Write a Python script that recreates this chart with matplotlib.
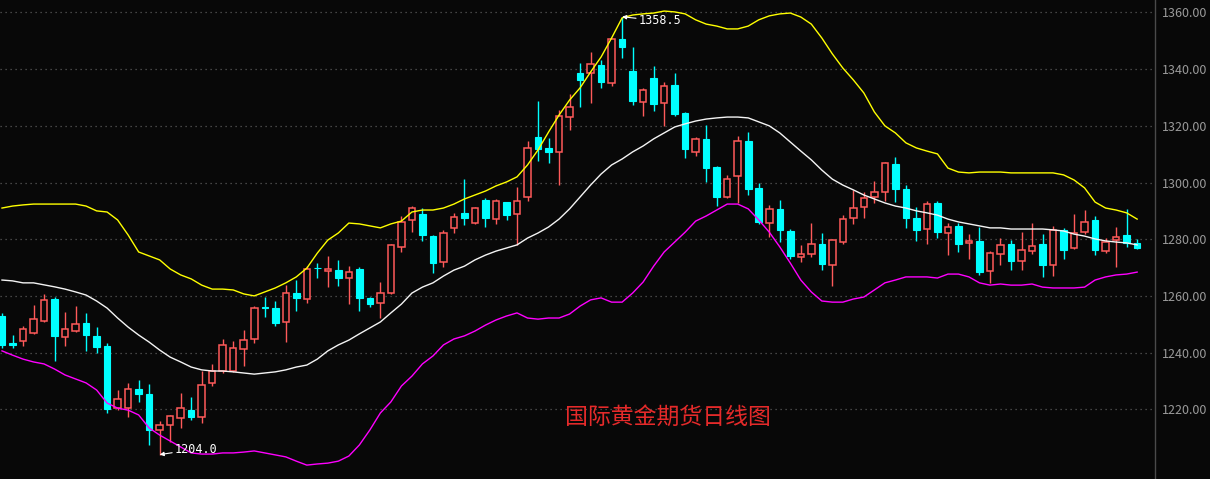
import matplotlib
matplotlib.use("Agg")
import matplotlib.pyplot as plt
import numpy as np

plt.rcParams['font.family'] = ['Noto Sans CJK SC', 'DejaVu Sans']

# daily OHLC (oldest first)
opens = [1252.9, 1243.3, 1244.1, 1246.9, 1251.1, 1258.9, 1245.5, 1247.6, 1250.4, 1245.8,
         1242.4, 1220.4, 1220.4, 1227.1, 1225.4, 1212.7, 1214.4, 1216.9, 1219.7, 1217.3,
         1229.3, 1233.5, 1233.5, 1241.3, 1244.8, 1256.2, 1255.7, 1250.8, 1261.0, 1258.9,
         1270.0, 1268.8, 1269.1, 1266.3, 1269.5, 1259.3, 1257.5, 1261.0, 1277.3, 1286.8,
         1288.9, 1281.1, 1272.0, 1284.0, 1289.3, 1285.7, 1293.8, 1287.1, 1293.1, 1288.9,
         1294.9, 1316.1, 1312.2, 1310.8, 1323.1, 1338.7, 1338.7, 1341.5, 1335.1, 1350.6,
         1339.4, 1328.4, 1336.9, 1328.1, 1334.4, 1324.5, 1310.8, 1315.4, 1305.5, 1294.9,
         1302.3, 1314.7, 1298.1, 1285.7, 1290.7, 1282.9, 1273.7, 1274.8, 1278.3, 1270.9,
         1279.0, 1287.5, 1291.4, 1294.9, 1296.7, 1306.5, 1297.7, 1287.5, 1283.6, 1292.8,
         1282.2, 1284.7, 1278.7, 1279.4, 1268.8, 1274.8, 1278.3, 1272.3, 1275.8, 1278.3,
         1270.9, 1283.3, 1276.9, 1282.5, 1286.8, 1275.8, 1279.7, 1281.5, 1278.7]
highs = [1254.0, 1246.2, 1249.4, 1256.8, 1260.7, 1259.6, 1254.3, 1256.4, 1254.0, 1249.0,
         1243.4, 1226.8, 1229.3, 1230.3, 1228.9, 1215.9, 1218.0, 1225.7, 1224.3, 1233.5,
         1236.0, 1244.8, 1244.1, 1248.0, 1256.4, 1259.6, 1258.2, 1263.8, 1265.6, 1270.6,
         1271.6, 1274.1, 1272.7, 1270.6, 1270.2, 1259.6, 1264.9, 1278.3, 1288.2, 1291.7,
         1291.0, 1281.5, 1283.3, 1289.3, 1301.2, 1291.4, 1294.5, 1294.2, 1293.3, 1298.4,
         1314.7, 1328.8, 1315.7, 1325.6, 1331.2, 1342.2, 1346.1, 1343.2, 1350.9, 1358.5,
         1347.8, 1333.4, 1341.1, 1335.5, 1338.7, 1324.8, 1316.1, 1320.3, 1305.8, 1302.7,
         1316.4, 1317.8, 1299.8, 1292.1, 1293.8, 1283.6, 1278.0, 1285.7, 1282.2, 1280.0,
         1288.6, 1297.4, 1296.7, 1300.5, 1307.2, 1309.0, 1299.1, 1291.4, 1293.5, 1293.5,
         1285.7, 1285.7, 1281.8, 1284.3, 1275.8, 1280.4, 1279.7, 1282.5, 1285.7, 1281.8,
         1284.7, 1284.0, 1288.9, 1290.3, 1288.2, 1280.4, 1284.3, 1290.7, 1280.0]
lows = [1241.5, 1241.6, 1242.4, 1246.5, 1250.8, 1237.0, 1242.4, 1247.3, 1240.6, 1239.9,
        1218.7, 1219.7, 1217.3, 1222.6, 1207.4, 1204.0, 1208.4, 1213.4, 1216.2, 1215.2,
        1228.2, 1232.8, 1233.0, 1235.3, 1243.4, 1252.6, 1249.4, 1243.7, 1254.7, 1257.5,
        1266.3, 1263.1, 1263.5, 1257.1, 1254.7, 1256.1, 1252.2, 1260.7, 1275.5, 1282.5,
        1279.4, 1268.1, 1270.2, 1282.2, 1285.0, 1285.5, 1284.3, 1285.4, 1286.8, 1278.0,
        1293.5, 1307.6, 1306.9, 1299.1, 1318.5, 1326.7, 1328.1, 1333.4, 1334.1, 1344.0,
        1327.4, 1323.5, 1325.2, 1320.0, 1323.5, 1308.7, 1309.4, 1300.2, 1291.7, 1294.5,
        1292.8, 1295.6, 1285.4, 1280.8, 1279.0, 1273.0, 1272.0, 1273.7, 1269.1, 1263.5,
        1278.3, 1285.4, 1287.5, 1292.8, 1293.5, 1293.1, 1284.0, 1279.4, 1278.3, 1280.4,
        1274.4, 1275.5, 1273.0, 1267.4, 1264.6, 1270.9, 1269.1, 1269.1, 1274.8, 1266.7,
        1267.0, 1273.0, 1276.6, 1281.8, 1274.4, 1275.1, 1270.2, 1277.3, 1276.6]
closes = [1242.7, 1242.7, 1248.3, 1251.8, 1258.6, 1245.8, 1248.3, 1250.1, 1246.2, 1242.0,
          1220.1, 1223.6, 1227.1, 1225.4, 1212.7, 1214.4, 1217.6, 1220.4, 1217.3, 1228.6,
          1233.5, 1242.7, 1241.6, 1244.4, 1255.7, 1255.8, 1250.4, 1261.0, 1259.3, 1269.5,
          1269.7, 1269.5, 1266.3, 1268.4, 1259.3, 1257.1, 1261.0, 1278.0, 1286.1, 1291.0,
          1281.5, 1271.6, 1282.2, 1287.8, 1287.5, 1291.0, 1287.5, 1293.5, 1288.6, 1293.5,
          1312.2, 1311.8, 1310.8, 1323.5, 1326.7, 1336.2, 1341.8, 1335.5, 1350.6, 1347.8,
          1328.8, 1332.7, 1327.7, 1334.1, 1324.2, 1311.8, 1315.4, 1305.1, 1294.9, 1301.2,
          1314.7, 1297.7, 1286.1, 1290.7, 1283.3, 1274.1, 1274.8, 1278.3, 1271.3, 1279.7,
          1287.1, 1291.0, 1294.5, 1296.7, 1306.9, 1297.7, 1287.5, 1283.3, 1292.4, 1282.5,
          1284.3, 1278.3, 1279.4, 1268.4, 1275.1, 1278.0, 1272.3, 1276.2, 1277.6, 1270.9,
          1283.3, 1276.2, 1282.2, 1286.1, 1276.2, 1279.0, 1280.8, 1278.7, 1276.9]

# Bollinger bands as drawn on the chart
boll_upper = [1291.0, 1291.7, 1292.1, 1292.4, 1292.4, 1292.4, 1292.4, 1292.4, 1291.7, 1290.0,
              1289.6, 1286.8, 1281.5, 1275.5, 1274.1, 1272.7, 1269.5, 1267.4, 1266.0, 1263.8,
              1262.4, 1262.4, 1262.1, 1260.7, 1260.0, 1261.4, 1262.8, 1264.6, 1266.7, 1269.8,
              1275.1, 1279.7, 1282.2, 1285.7, 1285.4, 1284.7, 1284.0, 1285.4, 1286.4, 1289.6,
              1290.3, 1290.3, 1291.0, 1292.4, 1294.2, 1295.6, 1297.0, 1298.8, 1300.2, 1302.0,
              1306.2, 1311.5, 1317.8, 1323.8, 1329.1, 1333.4, 1339.0, 1344.3, 1351.0, 1358.1,
              1359.1, 1359.5, 1359.8, 1360.5, 1360.2, 1359.5, 1357.4, 1355.9, 1355.2, 1354.2,
              1354.2, 1355.2, 1357.4, 1358.8, 1359.5, 1359.8, 1358.4, 1355.9, 1351.0, 1345.4,
              1340.4, 1336.2, 1331.6, 1324.9, 1320.0, 1317.5, 1314.0, 1312.2, 1311.1, 1310.1,
              1305.1, 1303.7, 1303.4, 1303.7, 1303.7, 1303.7, 1303.4, 1303.4, 1303.4, 1303.4,
              1303.4, 1302.7, 1300.9, 1298.1, 1293.1, 1291.0, 1290.3, 1289.3, 1287.1]
boll_mid = [1265.6, 1265.3, 1264.6, 1264.6, 1263.9, 1263.2, 1262.4, 1261.4, 1260.3, 1258.2,
            1255.7, 1252.2, 1249.0, 1246.2, 1243.7, 1240.9, 1238.4, 1236.7, 1234.9, 1233.9,
            1233.5, 1233.5, 1233.2, 1232.8, 1232.4, 1232.8, 1233.2, 1233.9, 1234.9, 1235.6,
            1237.7, 1240.6, 1242.7, 1244.4, 1246.6, 1248.7, 1250.8, 1254.0, 1257.1, 1261.0,
            1263.1, 1264.6, 1267.0, 1269.1, 1270.5, 1272.7, 1274.4, 1275.8, 1276.9, 1278.0,
            1280.4, 1282.2, 1284.3, 1287.1, 1290.7, 1294.9, 1299.1, 1303.0, 1306.2, 1308.3,
            1310.8, 1312.9, 1315.4, 1317.5, 1319.6, 1320.7, 1321.7, 1322.4, 1322.8, 1323.1,
            1323.1, 1322.8, 1321.4, 1320.0, 1317.5, 1314.3, 1311.1, 1308.0, 1304.4, 1301.2,
            1299.1, 1297.4, 1295.6, 1294.2, 1292.8, 1291.7, 1291.0, 1290.0, 1289.3, 1288.5,
            1287.1, 1286.1, 1285.4, 1284.7, 1284.0, 1284.0, 1283.6, 1283.6, 1283.6, 1283.6,
            1283.3, 1282.9, 1281.8, 1281.1, 1280.1, 1279.4, 1279.0, 1278.7, 1278.0]
boll_lower = [1240.6, 1239.1, 1237.7, 1236.7, 1236.0, 1234.2, 1232.1, 1230.7, 1229.3, 1226.8,
              1222.2, 1220.4, 1219.7, 1218.0, 1213.4, 1210.9, 1208.8, 1206.7, 1204.6, 1204.2,
              1204.2, 1204.6, 1204.6, 1204.9, 1205.3, 1204.6, 1203.9, 1203.2, 1201.7, 1200.3,
              1200.7, 1201.0, 1201.7, 1203.5, 1207.4, 1212.7, 1218.7, 1222.6, 1228.2, 1231.7,
              1236.0, 1238.8, 1242.7, 1244.8, 1245.9, 1247.6, 1249.7, 1251.5, 1252.9, 1254.0,
              1252.2, 1251.8, 1252.2, 1252.2, 1253.6, 1256.4, 1258.6, 1259.3, 1257.8, 1257.8,
              1261.0, 1264.9, 1270.5, 1275.5, 1279.0, 1282.5, 1286.4, 1288.2, 1290.3, 1292.4,
              1292.4, 1290.7, 1286.8, 1282.5, 1277.3, 1271.6, 1265.6, 1261.4, 1258.2, 1257.8,
              1257.8, 1258.9, 1259.6, 1262.1, 1264.6, 1265.6, 1266.7, 1266.7, 1266.7, 1266.3,
              1267.7, 1267.7, 1266.7, 1264.6, 1263.8, 1264.2, 1263.8, 1263.8, 1264.2, 1263.1,
              1262.8, 1262.8, 1262.8, 1263.1, 1265.6, 1266.7, 1267.4, 1267.7, 1268.4]

price_ticks = [1220, 1240, 1260, 1280, 1300, 1320, 1340, 1360]
title = "国际黄金期货日线图"

bg = "#080808"
up_col = "#ff5a5a"
down_col = "#00ffff"

fig = plt.figure(figsize=(12.10, 4.79), dpi=100, facecolor=bg)
ax = fig.add_axes([0, 0, 1155 / 1210, 1], facecolor=bg)

x = np.arange(len(closes))
o = np.array(opens)
c = np.array(closes)
h = np.array(highs)
l = np.array(lows)
up = c >= o

# wicks
ax.vlines(x[up], l[up], h[up], color=up_col, lw=1.0, zorder=2)
ax.vlines(x[~up], l[~up], h[~up], color=down_col, lw=1.0, zorder=2)
# bodies
w = 0.62
ax.bar(x[up], np.maximum(c[up] - o[up], 0.3), w, bottom=o[up], facecolor=bg,
       edgecolor=up_col, linewidth=1.1, zorder=3)
ax.bar(x[~up], np.maximum(o[~up] - c[~up], 0.3), w, bottom=c[~up], facecolor=down_col,
       edgecolor=down_col, linewidth=0.8, zorder=3)

# bands
ax.plot(x, boll_upper, color="#ffff00", lw=1.0, zorder=4)
ax.plot(x, boll_mid, color="#f4f4f4", lw=1.0, zorder=4)
ax.plot(x, boll_lower, color="#ff00ff", lw=1.0, zorder=4)

# high / low markers
i_hi = int(np.argmax(h))
i_lo = int(np.argmin(l))
ax.annotate(f"{h[i_hi]:.1f}", xy=(i_hi, h[i_hi]), xytext=(12, -3), textcoords="offset points",
            color="white", fontsize=8.5, family="DejaVu Sans Mono", va="center", ha="left",
            arrowprops=dict(arrowstyle="-|>", color="white", lw=0.8, mutation_scale=6,
                            shrinkA=0, shrinkB=0), zorder=6)
ax.annotate(f"{l[i_lo]:.1f}", xy=(i_lo, l[i_lo]), xytext=(11, 4), textcoords="offset points",
            color="white", fontsize=8.5, family="DejaVu Sans Mono", va="center", ha="left",
            arrowprops=dict(arrowstyle="-|>", color="white", lw=0.8, mutation_scale=6,
                            shrinkA=0, shrinkB=0), zorder=6)

ax.set_xlim(-0.19, 109.7)
ax.set_ylim(1195.4, 1364.4)

ax.yaxis.tick_right()
ax.set_yticks(price_ticks)
ax.set_yticklabels([f"{t:.2f}" for t in price_ticks])
ax.tick_params(axis="y", length=0, pad=5, labelsize=9, labelcolor="#9a9a9a")
ax.set_xticks([])
ax.grid(axis="y", color="#5a5a5a", linestyle=(0, (1, 3)), lw=0.9)
for side in ["top", "bottom", "left"]:
    ax.spines[side].set_visible(False)
ax.spines["right"].set_color("#4a4a4a")
ax.spines["right"].set_linewidth(1.0)

fig.text(668 / 1210, 1 - 417 / 479, title, color="#e52a2a", fontsize=16.5,
         ha="center", va="center")

fig.savefig("out.png", dpi=100, facecolor=bg)
